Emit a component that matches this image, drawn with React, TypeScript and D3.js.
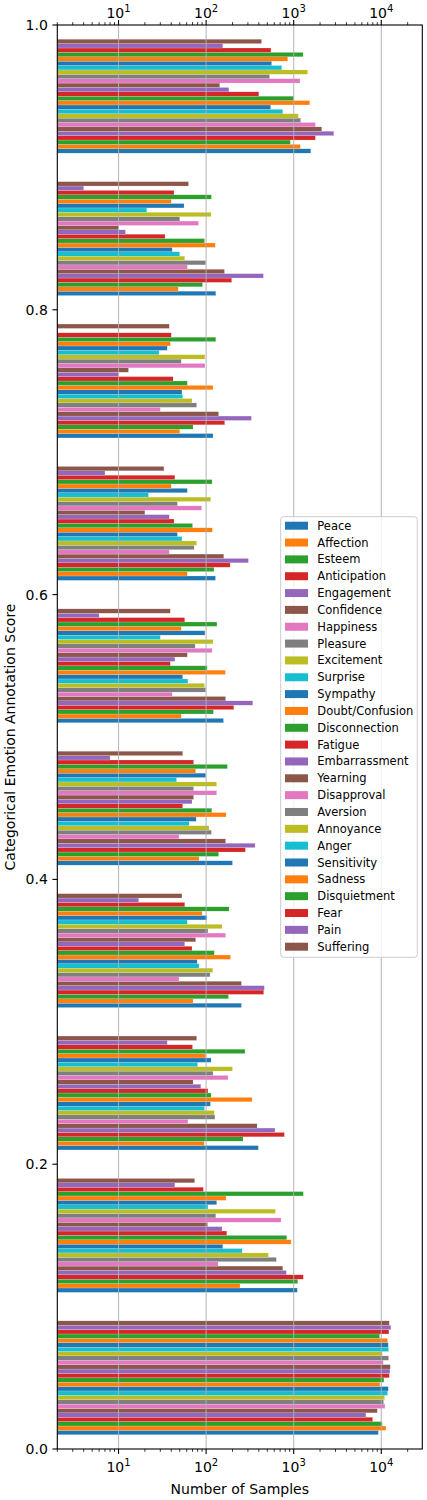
import React from "react";
import * as d3 from "d3";

const emotions = [
  "Peace", "Affection", "Esteem", "Anticipation", "Engagement", "Confidence",
  "Happiness", "Pleasure", "Excitement", "Surprise", "Sympathy", "Doubt/Confusion",
  "Disconnection", "Fatigue", "Embarrassment", "Yearning", "Disapproval", "Aversion",
  "Annoyance", "Anger", "Sensitivity", "Sadness", "Disquietment", "Fear", "Pain", "Suffering",
];

const binStarts = [0.0, 0.1, 0.2, 0.3, 0.4, 0.5, 0.6, 0.7, 0.8, 0.9];

// counts per bin, ordered as in `emotions`
const bin00 = [9250, 11300, 10260, 7960, 6680, 9000, 11020, 10630, 10910, 11810, 12020, 9660, 10720, 12330, 12560, 12670, 10540, 12130, 10260, 12130, 12020, 11810, 9570, 12220, 12880, 12330];
const bin01 = [1100, 244, 1112, 1288, 824, 750, 137, 634, 514, 258, 155, 933, 832, 172, 152, 104, 717, 129, 618, 105, 132, 169, 1288, 93, 44, 74];
const bin02 = [395, 95, 264, 783, 612, 382, 62, 126, 124, 96, 112, 335, 114, 105, 87, 71, 178, 120, 200, 80, 114, 99, 278, 70, 36, 78];
const bin03 = [253, 71, 180, 455, 462, 253, 49, 111, 119, 83, 79, 190, 124, 69, 57, 76, 167, 105, 152, 61, 102, 90, 183, 57, 17, 53];
const bin04 = [200, 83, 139, 281, 362, 167, 49, 115, 108, 64, 77, 169, 116, 54, 69, 72, 132, 72, 132, 46, 99, 76, 175, 72, 8, 54];
const bin05 = [158, 52, 121, 207, 341, 167, 41, 99, 96, 62, 54, 166, 103, 39, 44, 61, 117, 75, 120, 30, 97, 52, 133, 57, 6, 39];
const bin06 = [128, 61, 123, 188, 304, 159, 38, 73, 78, 53, 47, 118, 70, 43, 38, 20, 89, 47, 113, 22, 61, 40, 117, 44, 7, 33];
const bin07 = [120, 50, 71, 163, 329, 139, 30, 78, 69, 54, 53, 120, 61, 42, 10, 13, 97, 52, 97, 29, 36, 39, 129, 40, 1, 38];
const bin08 = [129, 48, 91, 196, 451, 162, 61, 99, 57, 50, 41, 127, 96, 34, 12, 10, 82, 50, 114, 21, 56, 40, 115, 43, 4, 63];
const bin09 = [1570, 1190, 915, 1770, 2870, 2090, 1770, 1200, 1130, 750, 545, 1525, 1000, 400, 182, 143, 1180, 530, 1445, 730, 560, 855, 1280, 550, 155, 430];

const counts = [bin00, bin01, bin02, bin03, bin04, bin05, bin06, bin07, bin08, bin09];

const xTicks = [10, 100, 1000, 10000];
const yTicks = [0.0, 0.2, 0.4, 0.6, 0.8, 1.0];

const palette = ["#1f77b4", "#ff7f0e", "#2ca02c", "#d62728", "#9467bd", "#8c564b", "#e377c2", "#7f7f7f", "#bcbd22", "#17becf"];

const FONT = "DejaVu Sans, sans-serif";

export default function App() {
  const W = 427, H = 1500;
  const left = 57.3, right = 422.3, top = 25, bottom = 1449;
  const x = d3.scaleLog().domain([2, 29400]).range([left, right]);
  const y = d3.scaleLinear().domain([0, 1]).range([bottom, top]);
  const color = d3.scaleOrdinal<string, string>().domain(emotions).range(palette);
  const band = 0.08 / emotions.length;

  const minorTicks: number[] = [];
  for (let e = 0; e <= 4; e++) {
    for (let m = 2; m <= 9; m++) {
      const v = m * Math.pow(10, e);
      if (v >= 2 && v <= 29400 && !xTicks.includes(v)) minorTicks.push(v);
    }
  }

  const x0 = x(2);
  const bars: JSX.Element[] = [];
  binStarts.forEach((b, bi) => {
    counts[bi].forEach((v, i) => {
      const y0 = y(b + 0.01 + i * band);
      const y1 = y(b + 0.01 + (i + 1) * band);
      const w = Math.max(0, x(Math.max(v, 2)) - x0);
      if (w <= 0) return;
      bars.push(
        <rect key={`${bi}-${i}`} x={x0} y={y1} width={w} height={y0 - y1}
          fill={color(emotions[i])} stroke="#ffffff" strokeWidth={0.3} strokeOpacity={0.6} />
      );
    });
  });

  const exp = (v: number) => Math.round(Math.log10(v));

  const legX = 280.7, legY = 516.7, legW = 136.6, legH = 440.6;
  const legStep = 16.84;

  return (
    <svg width={W} height={H} style={{ position: "absolute", left: 0, top: 0, background: "#fff" }}
      fontFamily={FONT}>
      <rect x={0} y={0} width={W} height={H} fill="#ffffff" />
      {bars}
      {xTicks.map((t) => (
        <line key={`g${t}`} x1={x(t)} x2={x(t)} y1={top} y2={bottom} stroke="#b0b0b0" strokeWidth={1.1} opacity={0.85} />
      ))}
      {/* frame */}
      <rect x={left} y={top} width={right - left} height={bottom - top} fill="none" stroke="#000" strokeWidth={1.1} />
      {/* x ticks bottom & top */}
      {xTicks.map((t) => (
        <g key={`xt${t}`}>
          <line x1={x(t)} x2={x(t)} y1={bottom} y2={bottom + 4.9} stroke="#000" strokeWidth={1.1} />
          <line x1={x(t)} x2={x(t)} y1={top} y2={top - 4.9} stroke="#000" strokeWidth={1.1} />
          <text x={x(t)} y={1472} textAnchor="middle" fontSize={14} fill="#000">
            10<tspan dy={-6} fontSize={10}>{exp(t)}</tspan>
          </text>
          <text x={x(t)} y={18} textAnchor="middle" fontSize={14} fill="#000">
            10<tspan dy={-6} fontSize={10}>{exp(t)}</tspan>
          </text>
        </g>
      ))}
      {minorTicks.map((t) => (
        <g key={`mt${t}`}>
          <line x1={x(t)} x2={x(t)} y1={bottom} y2={bottom + 2.8} stroke="#000" strokeWidth={0.8} />
          <line x1={x(t)} x2={x(t)} y1={top} y2={top - 2.8} stroke="#000" strokeWidth={0.8} />
        </g>
      ))}
      {/* y ticks */}
      {yTicks.map((t) => (
        <g key={`yt${t}`}>
          <line x1={left} x2={left - 4.9} y1={y(t)} y2={y(t)} stroke="#000" strokeWidth={1.1} />
          <text x={left - 9.5} y={y(t)} textAnchor="end" dominantBaseline="central" fontSize={14} fill="#000">
            {t.toFixed(1)}
          </text>
        </g>
      ))}
      <text x={(left + right) / 2} y={1489} textAnchor="middle" dominantBaseline="central" fontSize={14} fill="#000">
        Number of Samples
      </text>
      <text transform={`translate(10, ${(top + bottom) / 2}) rotate(-90)`} textAnchor="middle" dominantBaseline="central" fontSize={14} fill="#000">
        Categorical Emotion Annotation Score
      </text>
      {/* legend */}
      <rect x={legX} y={legY} width={legW} height={legH} rx={3} fill="#ffffff" fillOpacity={0.8} stroke="#cccccc" strokeWidth={1} />
      {emotions.map((e, i) => {
        const cy = legY + 9 + i * legStep;
        return (
          <g key={`lg${e}`}>
            <rect x={285} y={cy - 4} width={23} height={8} fill={color(e)} />
            <text x={317.3} y={cy} dominantBaseline="central" fontSize={11.5} fill="#000">{e}</text>
          </g>
        );
      })}
    </svg>
  );
}
